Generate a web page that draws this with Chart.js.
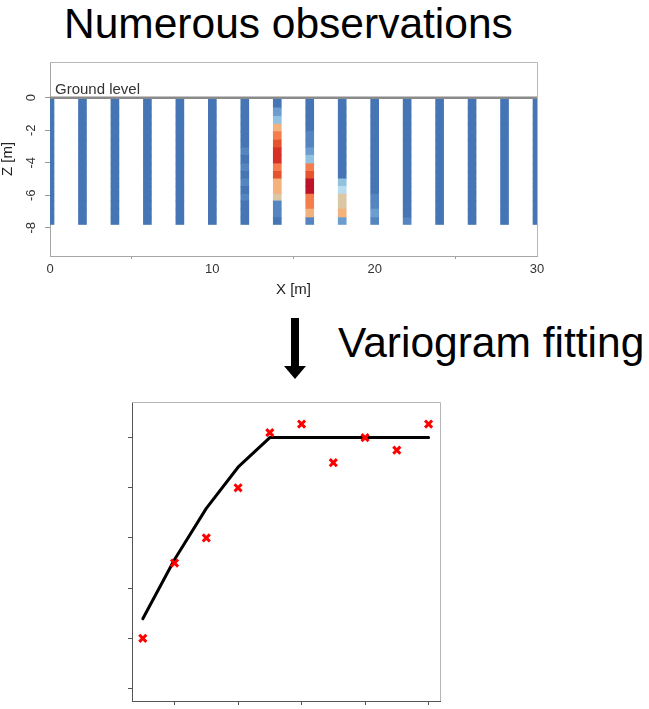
<!DOCTYPE html>
<html lang="en">
<head>
<meta charset="UTF-8">
<title>Numerous observations / Variogram fitting</title>
<script src="https://cdn.jsdelivr.net/npm/chart.js@4.4.0/dist/chart.umd.min.js"></script>
<style>
  body { margin: 0; background: #fff; font-family: "Liberation Sans", Arial, sans-serif; }
  #page { position: relative; width: 649px; height: 709px; overflow: hidden; }
  .big { position: absolute; font-size: 42.5px; line-height: 42.5px; color: #000; white-space: nowrap; }
  canvas { position: absolute; }
  .shaft { position: absolute; left: 291px; top: 318px; width: 8px; height: 50px; background: #000; }
  .head { position: absolute; left: 284px; top: 366px; width: 0; height: 0;
          border-left: 11px solid transparent; border-right: 11px solid transparent; border-top: 13px solid #000; }
</style>
</head>
<body>
<div id="page">
  <div class="big" style="left:64px; top:3px;">Numerous observations</div>
  <canvas id="section" width="560" height="245" style="left:0; top:55px;"></canvas>
  <div class="shaft"></div><div class="head"></div>
  <div class="big" style="left:338px; top:322px;">Variogram fitting</div>
  <canvas id="vario" width="335" height="317" style="left:120px; top:392px;"></canvas>
</div>
<script>
  // --- cross-section data ---
  const boreholeX = [0, 2, 4, 6, 8, 10, 12, 14, 16, 18, 20, 22, 24, 26, 28, 30];
  // depth of the top of each measured cell (m below ground), last cell ends at bottomDepth
  const cellTop = [0, 0.62, 1.14, 1.62, 2.08, 2.6, 3.08, 3.54, 4.06, 4.53, 4.99, 5.45, 5.93, 6.35, 6.85, 7.38];
  const bottomDepth = 7.8;
  const groundLevel = 0;
  const sectionXRange = [0, 30];
  const xTicks = [0, 10, 20, 30];
  const zTicks = [-8, -6, -4, -2, 0];
  // observed class per cell (0 = low ... 10 = high), one row per borehole
  const levels = [
    [0,0,0,0,0,0,0,0,0,0,0,0,0,0,0,0],
    [0,0,0,0,0,0,0,0,0,0,0,0,0,0,0,0],
    [0,0,0,0,0,0,0,0,0,0,0,0,0,0,0,0],
    [0,0,0,0,0,0,0,0,0,0,0,0,0,0,0,0],
    [0,0,0,0,0,0,0,0,0,0,0,0,0,0,0,0],
    [0,0,0,0,0,0,0,0,0,0,0,0,0,0,0,0],
    [0,0,0,0,0,0,1,0,1,0,1,0,1,0,0,0],
    [0,2,3,6,7,8,9,9,7,8,6,6,5,1,1,0],
    [0,0,0,0,1,1,2,3,7,8,10,10,7,7,6,1],
    [0,0,0,0,0,0,0,0,0,0,3,4,5,5,6,2],
    [0,0,0,0,0,0,0,0,0,0,0,0,1,1,2,1],
    [0,0,0,0,0,0,0,0,0,0,0,0,0,0,0,1],
    [0,0,0,0,0,0,0,0,0,0,0,0,0,0,0,0],
    [0,0,0,0,0,0,0,0,0,0,0,0,0,0,0,0],
    [0,0,0,0,0,0,0,0,0,0,0,0,0,0,0,0],
    [0,0,0,0,0,0,0,0,0,0,0,0,0,0,0,0]
  ];
  const palette = ['#4575b4', '#5585c0', '#6c9dd0', '#91c3e1', '#b7dced', '#dcc7a4',
                   '#f3b27b', '#f57d4b', '#e6532f', '#d63027', '#bd1229'];

  // --- variogram data ---
  const lagX = [0.5, 1, 1.5, 2, 2.5, 3, 3.5, 4, 4.5, 5];
  const semivariance = [1.0, 2.5, 3.0, 4.0, 5.1, 5.27, 4.5, 5.0, 4.75, 5.27];
  const modelY = [1.39, 2.57, 3.59, 4.41, 5.0, 5.0, 5.0, 5.0, 5.0, 5.0];
  const lagTicks = [1, 2, 3, 4, 5];
  const gammaTicks = [0, 1, 2, 3, 4, 5];

  const FONT = '"Liberation Sans", Arial, sans-serif';

  const framePlugin = {
    id: 'frame',
    afterDatasetsDraw(chart, args, opts) {
      const a = chart.chartArea, ctx = chart.ctx;
      ctx.save();
      ctx.strokeStyle = opts.color;
      ctx.lineWidth = 1;
      ctx.beginPath();
      ctx.moveTo(a.left, Math.round(a.top) + 0.5);
      ctx.lineTo(Math.round(a.right) + 0.5, Math.round(a.top) + 0.5);
      ctx.lineTo(Math.round(a.right) + 0.5, a.bottom);
      ctx.stroke();
      ctx.restore();
    }
  };

  const groundLabel = {
    id: 'groundLabel',
    afterDatasetsDraw(chart) {
      const ctx = chart.ctx;
      ctx.save();
      ctx.fillStyle = '#333';
      ctx.font = '15px ' + FONT;
      ctx.textBaseline = 'alphabetic';
      ctx.fillText('Ground level', chart.scales.x.getPixelForValue(sectionXRange[0]) + 5,
                   chart.scales.y.getPixelForValue(groundLevel) - 3.5);
      ctx.restore();
    }
  };

  // fixed axis sizes, no extra label overhang padding
  const fixHeight = h => s => { s.height = h; s.paddingLeft = 0; s.paddingRight = 0; };
  const fixWidth = w => s => { s.width = w; s.paddingTop = 0; s.paddingBottom = 0; };

  const boreholeSets = boreholeX.map((x, i) => ({
    type: 'bar',
    data: cellTop.map((top, j) => ({
      x: x,
      y: [-(j < cellTop.length - 1 ? cellTop[j + 1] : bottomDepth), -top]
    })),
    backgroundColor: levels[i].map(l => palette[l]),
    borderWidth: 0,
    barThickness: 8,
    grouped: false,
    clip: 0,
    order: 2
  }));

  new Chart(document.getElementById('section'), {
    type: 'bar',
    data: {
      datasets: [
        {
          type: 'line',
          data: sectionXRange.map(x => ({ x: x, y: groundLevel })),
          borderColor: '#8a8a8a',
          borderWidth: 2.5,
          pointRadius: 0,
          clip: 0,
          order: 1
        },
        ...boreholeSets
      ]
    },
    options: {
      responsive: false,
      animation: false,
      events: [],
      layout: { padding: { left: 0, right: 23, top: 7, bottom: 0 } },
      plugins: { legend: { display: false }, tooltip: { enabled: false }, frame: { color: '#b8b8b8' } },
      scales: {
        x: {
          type: 'linear', min: sectionXRange[0], max: sectionXRange[1], offset: false,
          afterBuildTicks: s => { s.ticks = xTicks.map(v => ({ value: v })); },
          afterFit: fixHeight(44),
          grid: { drawOnChartArea: false, drawTicks: true, tickLength: 3, tickColor: '#999' },
          border: { display: true, color: '#a6a6a6', width: 1 },
          ticks: { color: '#333', font: { size: 13, family: FONT }, padding: 3, maxRotation: 0, autoSkip: false },
          title: { display: true, text: 'X [m]', color: '#222', font: { size: 15, family: FONT, lineHeight: 1 },
                   padding: { top: 0, bottom: 2.5 } }
        },
        y: {
          type: 'linear', min: -9.74, max: 2.2,
          afterBuildTicks: s => { s.ticks = zTicks.map(v => ({ value: v })); },
          afterFit: fixWidth(50),
          grid: { drawOnChartArea: false, drawTicks: true, tickLength: 5, tickColor: '#999' },
          border: { display: true, color: '#a6a6a6', width: 1 },
          ticks: { color: '#333', font: { size: 13, family: FONT }, padding: 7.5,
                   minRotation: 90, maxRotation: 90, crossAlign: 'center' },
          title: { display: true, text: 'Z [m]', color: '#222', font: { size: 15, family: FONT, lineHeight: 1 },
                   padding: { top: 0.5, bottom: 0 } }
        }
      }
    },
    plugins: [framePlugin, groundLabel]
  });

  new Chart(document.getElementById('vario'), {
    type: 'scatter',
    data: {
      datasets: [
        {
          data: lagX.map((x, i) => ({ x: x, y: semivariance[i] })),
          pointStyle: 'crossRot',
          pointRadius: 5,
          pointBorderWidth: 3,
          pointBorderColor: '#ff0000',
          pointBackgroundColor: '#ff0000',
          order: 0
        },
        {
          type: 'line',
          data: lagX.map((x, i) => ({ x: x, y: modelY[i] })),
          borderColor: '#000',
          borderWidth: 3,
          tension: 0,
          pointRadius: 0,
          borderCapStyle: 'round',
          borderJoinStyle: 'round',
          order: 1
        }
      ]
    },
    options: {
      responsive: false,
      animation: false,
      events: [],
      layout: { padding: { left: 0, right: 15, top: 10, bottom: 0 } },
      plugins: { legend: { display: false }, tooltip: { enabled: false }, frame: { color: '#b5b5b5' } },
      scales: {
        x: {
          type: 'linear', min: 0.33, max: 5.18,
          afterBuildTicks: s => { s.ticks = lagTicks.map(v => ({ value: v })); },
          afterFit: fixHeight(7),
          grid: { drawOnChartArea: false, drawTicks: true, tickLength: 4, tickColor: '#555' },
          border: { display: true, color: '#555', width: 1 },
          ticks: { display: false }
        },
        y: {
          type: 'linear', min: -0.25, max: 5.71,
          afterBuildTicks: s => { s.ticks = gammaTicks.map(v => ({ value: v })); },
          afterFit: fixWidth(12),
          grid: { drawOnChartArea: false, drawTicks: true, tickLength: 4, tickColor: '#555' },
          border: { display: true, color: '#555', width: 1 },
          ticks: { display: false }
        }
      }
    },
    plugins: [framePlugin]
  });
</script>
</body>
</html>
